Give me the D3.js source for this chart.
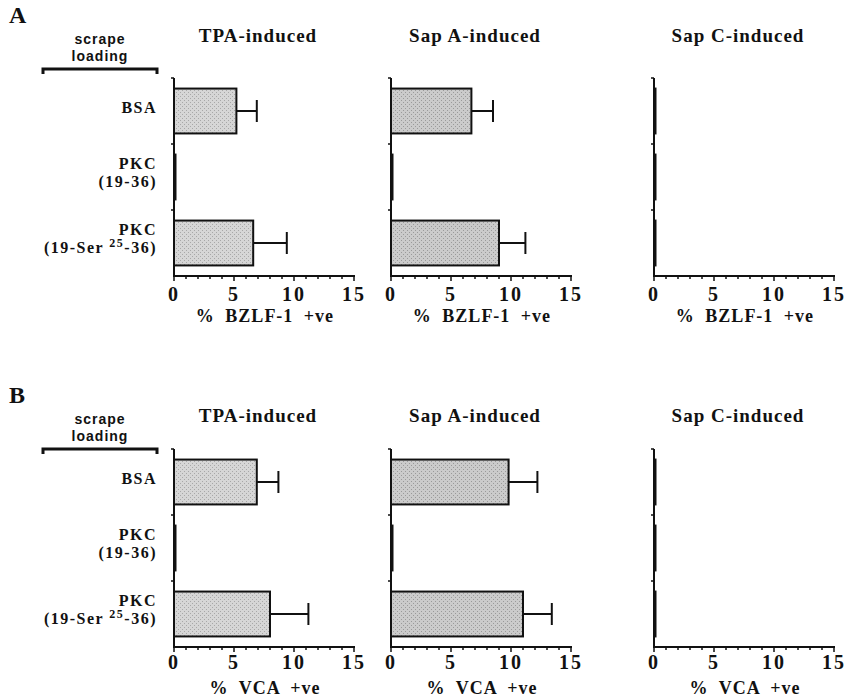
<!DOCTYPE html>
<html>
<head>
<meta charset="utf-8">
<script src="https://cdn.jsdelivr.net/npm/d3@7"></script>
<style>
  body { margin: 0; background: #fff; }
  text { font-family: "Liberation Serif", "Times New Roman", serif; font-weight: bold; fill: #111; }
</style>
</head>
<body>
<div id="main"></div>
<script>
// data
const inducers = ["TPA-induced", "Sap A-induced", "Sap C-induced"]
const categories = ["BSA", "PKC (19-36)", "PKC (19-Ser25-36)"]
const xTicks = [0, 5, 10, 15]
// % BZLF-1 positive (panel A)
const bzlfMean = [[5.2, 0, 6.6], [6.7, 0, 9.0], [0, 0, 0]]
const bzlfSd = [[1.7, 0, 2.8], [1.8, 0, 2.2], [0, 0, 0]]
// % VCA positive (panel B)
const vcaMean = [[6.9, 0, 8.0], [9.8, 0, 11.0], [0, 0, 0]]
const vcaSd = [[1.8, 0, 3.2], [2.4, 0, 2.4], [0, 0, 0]]

const svg = d3.select("#main").append("svg")
  .attr("width", 848)
  .attr("height", 700)

// light stipple look for the bars
const defs = svg.append("defs")
;[["dotsLight", "#d6d6d6", "#a8a8a8"], ["dotsDark", "#cbcbcb", "#9a9a9a"]].forEach(([id, bg, dot]) => {
  const pat = defs.append("pattern").attr("id", id)
    .attr("width", 4).attr("height", 4).attr("patternUnits", "userSpaceOnUse")
  pat.append("rect").attr("width", 4).attr("height", 4).attr("fill", bg)
  pat.append("rect").attr("x", 0).attr("y", 0).attr("width", 1).attr("height", 1).attr("fill", dot)
  pat.append("rect").attr("x", 2).attr("y", 2).attr("width", 1).attr("height", 1).attr("fill", dot)
})

const fills = ["url(#dotsLight)", "url(#dotsDark)", "url(#dotsDark)"]
const panelX = [174, 391, 654]
const plotW = 180
const plotH = 198

const x = d3.scaleLinear().domain([0, 15]).range([0, plotW])
const y = d3.scaleBand().domain(categories).range([0, plotH])
  .paddingInner(0.32).paddingOuter(0.16)

function drawSection(letter, top, headTop, mean, sd, xlabel, labelGap) {
  const g = svg.append("g")

  g.append("text").attr("x", 9).attr("y", headTop - 19)
    .style("font-size", "24px").text(letter)

  // scrape loading bracket
  g.append("text").attr("x", 100).attr("y", headTop + 2)
    .attr("text-anchor", "middle")
    .style("font-family", "'Liberation Sans', Arial, sans-serif")
    .style("font-size", "14px").style("letter-spacing", "1px")
    .text("scrape")
  g.append("text").attr("x", 100).attr("y", headTop + 19)
    .attr("text-anchor", "middle")
    .style("font-family", "'Liberation Sans', Arial, sans-serif")
    .style("font-size", "14px").style("letter-spacing", "1px")
    .text("loading")
  g.append("path")
    .attr("d", `M43,${headTop + 32} V${headTop + 27} H157 V${headTop + 32}`)
    .attr("fill", "none").attr("stroke", "#111").attr("stroke-width", 3)

  // category labels
  const lab = g.append("g").attr("transform", `translate(0,${top})`)
    .style("font-size", "16px").style("letter-spacing", "1.5px")
    .attr("text-anchor", "end")
  categories.forEach((c, i) => {
    const cy = y(c) + y.bandwidth() / 2
    if (i === 0) {
      lab.append("text").attr("x", 157).attr("y", cy + 2).text(c)
    } else {
      lab.append("text").attr("x", 157).attr("y", cy - 8).text("PKC")
      const t = lab.append("text").attr("x", 157).attr("y", cy + 10)
      if (i === 1) {
        t.text("(19-36)")
      } else {
        t.append("tspan").text("(19-Ser ")
        t.append("tspan").attr("dy", -6).style("font-size", "12px").text("25")
        t.append("tspan").attr("dy", 6).text("-36)")
      }
    }
  })

  inducers.forEach((name, p) => {
    const pg = g.append("g").attr("transform", `translate(${panelX[p]},${top})`)

    pg.append("text").attr("x", 84).attr("y", headTop - top)
      .attr("text-anchor", "middle")
      .style("font-size", "19px").style("letter-spacing", "1px")
      .text(name)

    // bars (zero values still show as a thin outline at the axis)
    pg.selectAll("rect.bar").data(categories).enter().append("rect")
      .attr("class", "bar")
      .attr("x", x(0))
      .attr("y", d => y(d))
      .attr("width", (d, i) => Math.max(x(mean[p][i]), 1.5))
      .attr("height", y.bandwidth())
      .attr("fill", fills[p])
      .attr("stroke", "#111").attr("stroke-width", 2)

    // error bars
    categories.forEach((c, i) => {
      if (sd[p][i] <= 0) return
      const cy = y(c) + y.bandwidth() / 2
      pg.append("line")
        .attr("x1", x(mean[p][i])).attr("x2", x(mean[p][i] + sd[p][i]))
        .attr("y1", cy).attr("y2", cy)
        .attr("stroke", "#111").attr("stroke-width", 2)
      pg.append("line")
        .attr("x1", x(mean[p][i] + sd[p][i])).attr("x2", x(mean[p][i] + sd[p][i]))
        .attr("y1", cy - 11).attr("y2", cy + 11)
        .attr("stroke", "#111").attr("stroke-width", 2)
    })

    // y axis with band boundary ticks
    pg.append("line").attr("x1", 0).attr("x2", 0).attr("y1", 0).attr("y2", plotH)
      .attr("stroke", "#111").attr("stroke-width", 2)
    ;[0, plotH / 3, 2 * plotH / 3].forEach(v => {
      pg.append("line").attr("x1", -3).attr("x2", 0).attr("y1", v).attr("y2", v)
        .attr("stroke", "#111").attr("stroke-width", 1.5)
    })

    // x axis: minor ticks every unit
    const xa = pg.append("g").attr("transform", `translate(0,${plotH})`)
    xa.append("line").attr("x1", -1).attr("x2", plotW + 1)
      .attr("stroke", "#111").attr("stroke-width", 2)
    xa.selectAll("line.tk").data(d3.range(0, 16)).enter().append("line")
      .attr("class", "tk")
      .attr("x1", d => x(d)).attr("x2", d => x(d))
      .attr("y1", 0).attr("y2", d => d % 5 === 0 ? 5 : 3)
      .attr("stroke", "#111").attr("stroke-width", 1.5)
    xa.selectAll("text.tl").data(xTicks).enter().append("text")
      .attr("class", "tl")
      .attr("x", d => x(d)).attr("y", labelGap)
      .attr("text-anchor", "middle")
      .style("font-size", "20px").style("letter-spacing", "2px")
      .text(d => d)
    xa.append("text").attr("x", 91).attr("y", labelGap + 21 + (letter === "B" ? 4 : 0))
      .attr("text-anchor", "middle")
      .style("font-size", "18px").style("word-spacing", "5px").style("letter-spacing", "1px")
      .text(xlabel)
  })
}

drawSection("A", 78, 42, bzlfMean, bzlfSd, "% BZLF-1 +ve", 25)
drawSection("B", 449, 422, vcaMean, vcaSd, "% VCA +ve", 22)
</script>
</body>
</html>
